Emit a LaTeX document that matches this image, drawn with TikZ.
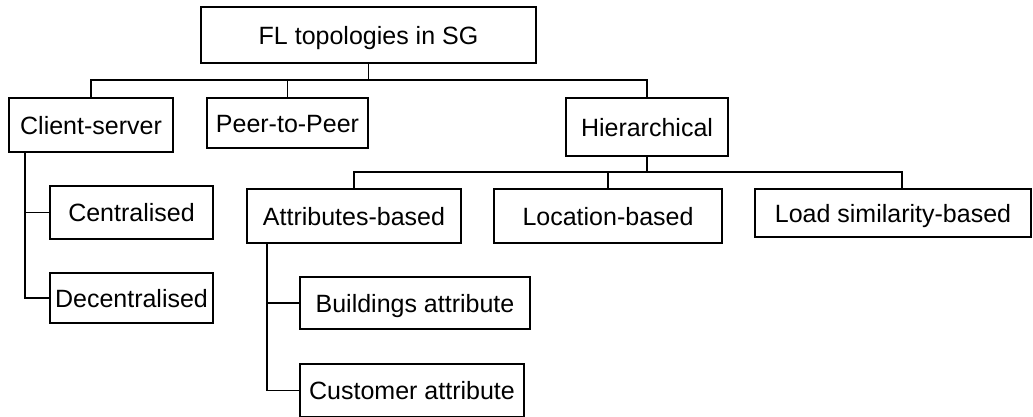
\documentclass[tikz,border=0pt]{standalone}
\usepackage{fontspec}
\setmainfont{Liberation Sans}
\begin{document}
\begin{tikzpicture}[x=1pt,y=-1pt,
  box/.style={draw, line width=1.6pt, inner sep=0pt, rectangle,
    font=\fontsize{25}{29}\selectfont, text height=18pt, text depth=0pt},
  conn/.style={line width=1.6pt}]
\useasboundingbox (0,0) rectangle (1033,416);
\node[box, minimum width=335pt, minimum height=56pt] (top) at (368.5,35) {FL topologies in SG};
\node[box, minimum width=164pt, minimum height=54pt] (cs) at (91,125) {Client-server};
\node[box, minimum width=161pt, minimum height=50pt] (p2p) at (287.5,123) {Peer-to-Peer};
\node[box, minimum width=162pt, minimum height=58pt] (hier) at (647,127) {Hierarchical};
\node[box, minimum width=163pt, minimum height=53pt] (cent) at (131.5,212.5) {Centralised};
\node[box, minimum width=163pt, minimum height=50pt] (decent) at (131.5,298) {Decentralised};
\node[box, minimum width=214pt, minimum height=54pt] (attr) at (354,216) {Attributes-based};
\node[box, minimum width=228pt, minimum height=54pt] (loc) at (608,216) {Location-based};
\node[box, minimum width=276pt, minimum height=48pt] (load) at (893,213) {Load similarity-based};
\node[box, minimum width=230pt, minimum height=52pt] (build) at (415,303) {Buildings attribute};
\node[box, minimum width=224pt, minimum height=53pt] (cust) at (412,390.5) {Customer attribute};
\coordinate (bus1) at (0,80);
\coordinate (bus2) at (0,172);
% top level
\draw[conn] (top.south) -- (top.south |- bus1) -| (cs.north);
\draw[conn] (top.south |- bus1) -| (p2p.north);
\draw[conn] (top.south |- bus1) -| (hier.north);
% hierarchical
\draw[conn] (hier.south) -- (hier.south |- bus2) -| (attr.north);
\draw[conn] (hier.south |- bus2) -| (loc.north);
\draw[conn] (hier.south |- bus2) -| ([xshift=9pt]load.north);
% client-server
\draw[conn] ([xshift=17pt]cs.south west) |- (cent.west);
\draw[conn] ([xshift=17pt]cs.south west) |- (decent.west);
% attributes
\draw[conn] ([xshift=21pt]attr.south west) |- (build.west);
\draw[conn] ([xshift=21pt]attr.south west) |- (cust.west);
\end{tikzpicture}
\end{document}
